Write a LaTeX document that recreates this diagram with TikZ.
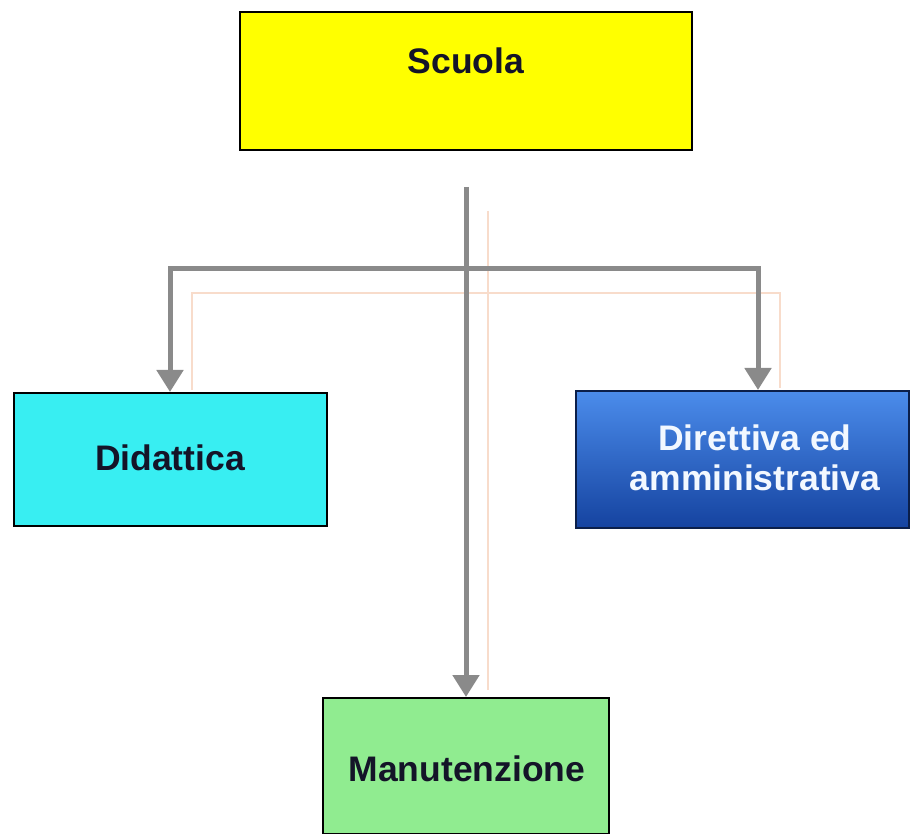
\documentclass[tikz,border=0pt]{standalone}
\usepackage{fontspec}
\setmainfont{Liberation Sans}
\usetikzlibrary{arrows.meta,calc}
\definecolor{yellowbox}{HTML}{FFFF00}
\definecolor{cyanbox}{HTML}{38EEF2}
\definecolor{greenbox}{HTML}{90EC90}
\definecolor{bluetop}{HTML}{4B8CEB}
\definecolor{bluebot}{HTML}{1543A0}
\definecolor{navyedge}{HTML}{0B1F4A}
\definecolor{conn}{HTML}{8A8A8A}
\definecolor{shadowline}{HTML}{F8DCCB}
\definecolor{txtdark}{HTML}{141428}
\definecolor{whitetxt}{HTML}{F2F8FF}
\tikzset{
  box/.style={draw=black, line width=2pt, inner sep=0pt},
  lbl/.style={font=\bfseries\fontsize{35.5}{40}\selectfont, text=txtdark, align=center, inner sep=0pt},
  wlbl/.style={font=\bfseries\fontsize{35.5}{40}\selectfont, text=whitetxt, align=center, inner sep=0pt},
  connector/.style={draw=conn, line width=5pt, -{Triangle[width=26pt,length=22pt]}},
  shline/.style={draw=shadowline, line width=2.5pt}
}
\begin{document}
\begin{tikzpicture}[x=1pt,y=-1pt]
\useasboundingbox[fill=white] (0,0) rectangle (922,834);
\begin{scope}
\clip (0,0) rectangle (922,834);
% boxes
\node[box, fill=yellowbox, minimum width=452pt, minimum height=138pt] (scuola) at (466,81) {};
\node[lbl] (scuolat) at (466,61) {Scuola};
\node[box, fill=cyanbox, minimum width=313pt, minimum height=133pt] (did) at (170,459.5) {};
\node[lbl] (didt) at (170,458) {Didattica};
\node[box, draw=navyedge, top color=bluetop, bottom color=bluebot, minimum width=333pt, minimum height=137pt] (dir) at (742.5,459.5) {};
\node[wlbl] (dirt) at (755,458) {Direttiva ed\\amministrativa};
\node[box, fill=greenbox, minimum width=286pt, minimum height=136pt] (manu) at (466,766) {};
\node[lbl] (manut) at (467,769) {Manutenzione};
% shadow lines of the connectors
\coordinate (st) at (488,211);
\coordinate (sl) at (192,293);
\coordinate (sr) at (780,293);
\coordinate (sld) at (192,390);
\coordinate (srd) at (780,388);
\coordinate (smd) at (488,690);
\draw[shline] (st) -- (smd);
\draw[shline] (sld) -- (sl) -- (sr) -- (srd);
% connectors
\coordinate (trunk) at (466,187);
\coordinate (j) at (466,269);
\draw[connector] (trunk) -- (manu.north);
\draw[connector] (j) -| (did.north);
\draw[connector] (j) -| ([xshift=15.5pt]dir.north);
\end{scope}
\end{tikzpicture}
\end{document}
